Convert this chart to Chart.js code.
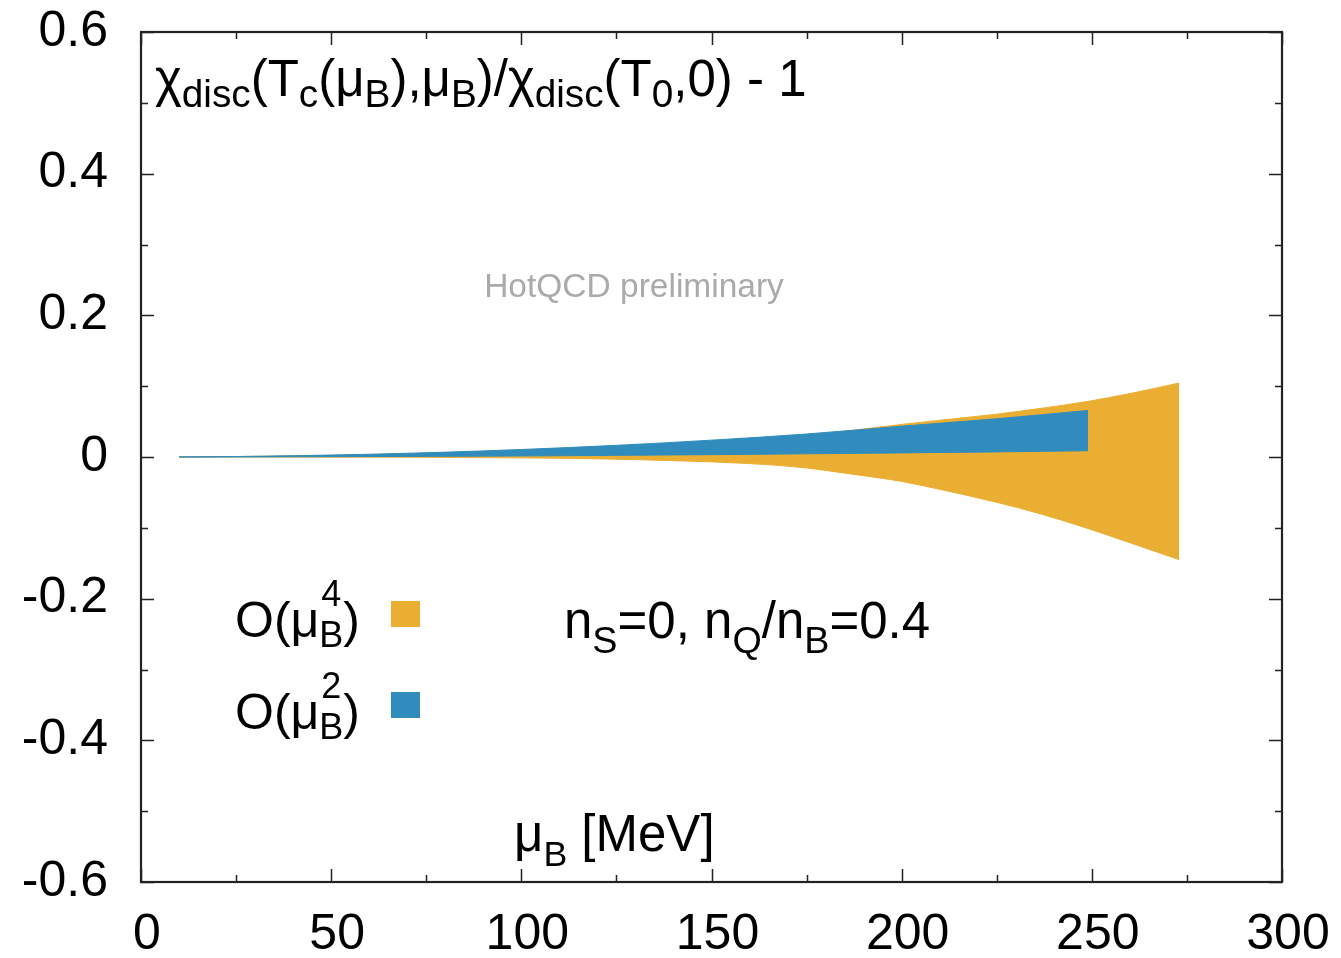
<!DOCTYPE html>
<html>
<head>
<meta charset="utf-8">
<script src="https://cdn.jsdelivr.net/npm/chart.js@4.4.0/dist/chart.umd.min.js"></script>
<style>
  html, body { margin: 0; padding: 0; background: #fff; }
  #wrap { width: 1341px; height: 958px; }
</style>
</head>
<body>
<div id="wrap"><canvas id="chart" width="1341" height="958"></canvas></div>
<script>
// mu_B [MeV] for the O(mu_B^4) band, and its upper / lower edge
var muO4 = [10, 25, 50, 75, 100, 120, 140, 160, 175, 186, 200, 212, 225, 237, 249, 260, 273];
var o4Upper = [0.0001, 0.0006, 0.0024, 0.0054, 0.0097, 0.014, 0.0193, 0.0257, 0.031, 0.037, 0.046, 0.053, 0.0605, 0.069, 0.0785, 0.0895, 0.1045];
var o4Lower = [0, 0, -0.0002, -0.0005, -0.0012, -0.0026, -0.0052, -0.0093, -0.0155, -0.0235, -0.0345, -0.048, -0.064, -0.081, -0.101, -0.121, -0.145];

// mu_B [MeV] for the O(mu_B^2) band
var muO2 = [10, 25, 50, 75, 100, 125, 150, 175, 200, 225, 249];
var o2Upper = [0.0001, 0.0007, 0.0027, 0.006, 0.0106, 0.0165, 0.0238, 0.0325, 0.0435, 0.054, 0.0657];
var o2Lower = [0, 0.0001, 0.0004, 0.0009, 0.0015, 0.0023, 0.0033, 0.0045, 0.0058, 0.0072, 0.0088];

var xTicks = [0, 50, 100, 150, 200, 250, 300];
var yTicks = [-0.6, -0.4, -0.2, 0, 0.2, 0.4, 0.6];

var ORANGE = '#eaae33';
var BLUE = '#318cbe';
var FONT = '"Liberation Sans", Arial, Helvetica, sans-serif';

function pts(xs, ys) {
	return xs.map(function(x, i) { return {x: x, y: ys[i]}; });
}

// draws text made of pieces: ['text'], ['text','sub'], ['text','sup'], ['sup','stack','sub']
function drawRich(ctx, x, y, parts, size, opt) {
	opt = opt || {};
	var small = size * (opt.small || 0.72);
	var subOff = opt.sub || size * 0.22;
	var supOff = opt.sup || size * 0.62;
	ctx.save();
	ctx.fillStyle = opt.color || '#000';
	ctx.textAlign = 'left';
	ctx.textBaseline = 'alphabetic';
	parts.forEach(function(p) {
		var kind = p[1] || '';
		if (kind === '') {
			ctx.font = size + 'px ' + FONT;
			ctx.fillText(p[0], x, y);
			x += ctx.measureText(p[0]).width;
		} else if (kind === 'sub') {
			ctx.font = small + 'px ' + FONT;
			ctx.fillText(p[0], x, y + subOff);
			x += ctx.measureText(p[0]).width;
		} else if (kind === 'sup') {
			ctx.font = small + 'px ' + FONT;
			ctx.fillText(p[0], x, y - supOff);
			x += ctx.measureText(p[0]).width;
		} else if (kind === 'stack') {
			ctx.font = small + 'px ' + FONT;
			ctx.fillText(p[0], x + 2, y - supOff);
			ctx.fillText(p[2], x, y + subOff);
			x += Math.max(ctx.measureText(p[0]).width, ctx.measureText(p[2]).width);
		}
	});
	ctx.restore();
	return x;
}

var framePlugin = {
	id: 'frame',
	afterDraw: function(chart) {
		var ctx = chart.ctx;
		var a = chart.chartArea;
		var xs = chart.scales.x, ys = chart.scales.y;
		ctx.save();
		ctx.strokeStyle = '#222';
		ctx.lineWidth = 1.5;
		var v, px, len;
		for (v = 0; v <= 300; v += 25) {
			px = Math.round(xs.getPixelForValue(v)) + 0.5;
			len = (v % 50 === 0) ? 13 : 7;
			ctx.beginPath();
			ctx.moveTo(px, a.bottom); ctx.lineTo(px, a.bottom - len);
			ctx.moveTo(px, a.top); ctx.lineTo(px, a.top + len);
			ctx.stroke();
		}
		for (var k = -6; k <= 6; k++) {
			px = Math.round(ys.getPixelForValue(k / 10)) + 0.5;
			len = (k % 2 === 0) ? 13 : 7;
			ctx.beginPath();
			ctx.moveTo(a.left, px); ctx.lineTo(a.left + len, px);
			ctx.moveTo(a.right, px); ctx.lineTo(a.right - len, px);
			ctx.stroke();
		}
		ctx.lineWidth = 2.2;
		ctx.strokeRect(a.left, a.top, a.right - a.left, a.bottom - a.top);
		ctx.restore();

		// texts
		drawRich(ctx, a.left + 14, 96, [
			['\u03c7'], ['disc', 'sub'], ['(T'], ['c', 'sub'], ['(\u03bc'], ['B', 'sub'],
			['),\u03bc'], ['B', 'sub'], [')/\u03c7'], ['disc', 'sub'], ['(T'], ['0', 'sub'], [',0) - 1']
		], 51, {sub: 11, small: 0.76});

		ctx.save();
		ctx.font = '33.5px ' + FONT;
		ctx.fillStyle = '#aaaaaa';
		ctx.textAlign = 'center';
		ctx.textBaseline = 'alphabetic';
		ctx.fillText('HotQCD preliminary', 634, 297);
		ctx.restore();

		drawRich(ctx, 514, 851, [['\u03bc'], ['B', 'sub'], [' [MeV]']], 51, {sub: 15, small: 0.7});

		drawRich(ctx, 564, 638, [['n'], ['S', 'sub'], ['=0, n'], ['Q', 'sub'], ['/n'], ['B', 'sub'], ['=0.4']], 51, {sub: 15, small: 0.74});

		// key
		drawRich(ctx, 235, 637, [['O(\u03bc'], ['4', 'stack', 'B'], [')']], 50, {sub: 10, sup: 31, small: 0.72});
		drawRich(ctx, 235, 729, [['O(\u03bc'], ['2', 'stack', 'B'], [')']], 50, {sub: 10, sup: 31, small: 0.72});
		ctx.fillStyle = ORANGE;
		ctx.fillRect(391, 601, 29, 26);
		ctx.fillStyle = BLUE;
		ctx.fillRect(391, 692, 29, 26);
	}
};

var ctx = document.getElementById('chart').getContext('2d');
var chart = new Chart(ctx, {
	type: 'line',
	data: {
		datasets: [
			{ label: 'O(muB^2) up', data: pts(muO2, o2Upper), fill: '+1', backgroundColor: BLUE, borderColor: BLUE, borderWidth: 1 },
			{ label: 'O(muB^2) low', data: pts(muO2, o2Lower), fill: false, backgroundColor: BLUE, borderColor: BLUE, borderWidth: 1 },
			{ label: 'O(muB^4) up', data: pts(muO4, o4Upper), fill: '+1', backgroundColor: ORANGE, borderColor: ORANGE, borderWidth: 1 },
			{ label: 'O(muB^4) low', data: pts(muO4, o4Lower), fill: false, backgroundColor: ORANGE, borderColor: ORANGE, borderWidth: 1 }
		]
	},
	options: {
		responsive: false,
		animation: false,
		events: [],
		layout: { padding: { top: 32, right: 59, left: 0, bottom: 0 } },
		elements: {
			point: { radius: 0 },
			line: { cubicInterpolationMode: 'monotone' }
		},
		plugins: {
			legend: { display: false },
			tooltip: { enabled: false },
			filler: { propagate: false }
		},
		scales: {
			x: {
				type: 'linear',
				min: 0, max: 300,
				grid: { display: false, drawTicks: false },
				border: { display: false },
				afterBuildTicks: function(s) { s.ticks = xTicks.map(function(v) { return {value: v}; }); },
				afterFit: function(s) { s.height = 76; s.paddingLeft = 0; s.paddingRight = 0; },
				ticks: {
					color: '#000',
					padding: 23,
					labelOffset: 6,
					maxRotation: 0,
					autoSkip: false,
					font: { family: FONT, size: 50 },
					callback: function(v) { return String(v); }
				}
			},
			y: {
				type: 'linear',
				min: -0.6, max: 0.6,
				grid: { display: false, drawTicks: false },
				border: { display: false },
				afterBuildTicks: function(s) { s.ticks = yTicks.map(function(v) { return {value: v}; }); },
				afterFit: function(s) { s.width = 141; s.paddingTop = 0; s.paddingBottom = 0; },
				ticks: {
					color: '#000',
					padding: 33,
					autoSkip: false,
					font: { family: FONT, size: 50 },
					callback: function(v) { return v === 0 ? '0' : v.toFixed(1); }
				}
			}
		}
	},
	plugins: [framePlugin]
});
</script>
</body>
</html>
